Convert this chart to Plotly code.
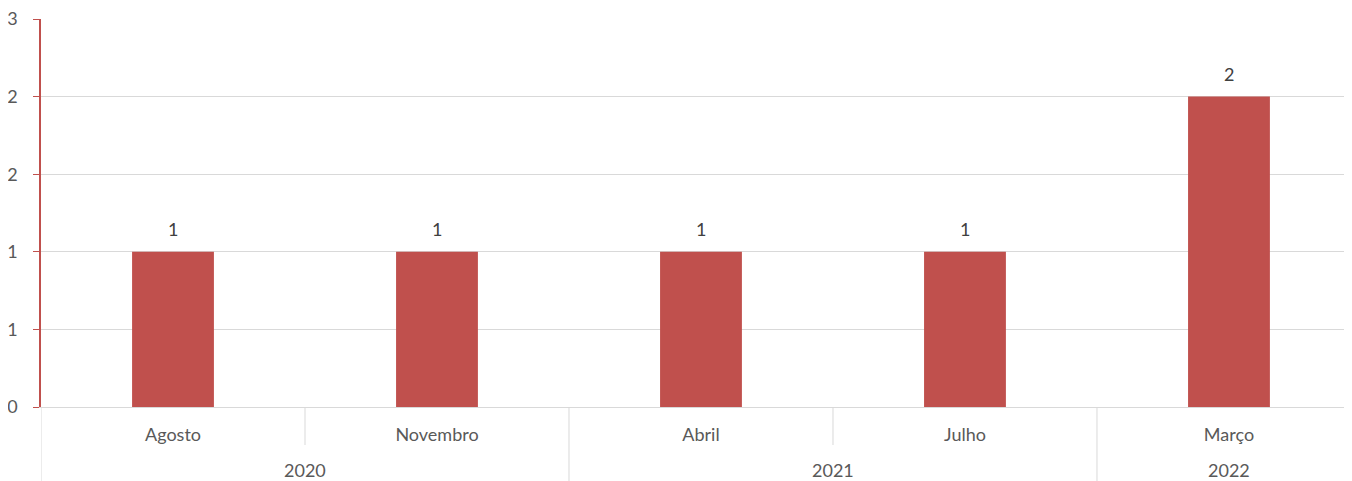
import plotly.graph_objects as go

months = ["Agosto", "Novembro", "Abril", "Julho", "Março"]
values = [1, 1, 1, 1, 2]
years = ["2020", "2021", "2022"]
year_pos = [0.5, 2.5, 4]
ytick_vals = [0, 0.5, 1, 1.5, 2, 2.5]
ytick_text = ["0", "1", "1", "2", "2", "3"]

BAR = "#C0504D"
GRID = "#D9D9D9"
TXT = "#595959"
FONT = "Lato"
FS = 18

# page body has an 8px default margin; compensate
OFF = 8
W, H = 1352 - OFF, 481 - OFF
t, b, l = 19 - OFF, 74, 41 - OFF
plot_h = H - t - b  # 388

fig = go.Figure()
fig.add_trace(go.Bar(
    x=months, y=values, width=0.31,
    marker=dict(color=BAR, line=dict(width=0)),
    hoverinfo="x+y",
))

def py(pix):
    return -(pix - 407) / plot_h

shapes = []
for i, xv in enumerate([-0.5, 0.5, 1.5, 2.5, 3.5]):
    long = i % 2 == 0
    shapes.append(dict(type="line", xref="x", yref="paper",
                       x0=xv, x1=xv, y0=0, y1=py(481 if long else 445),
                       line=dict(color=GRID, width=1)))

annotations = [dict(x=xp, y=py(470), xref="x", yref="paper", text=yr,
                    showarrow=False, yanchor="middle",
                    font=dict(family=FONT, size=FS, color=TXT))
               for xp, yr in zip(year_pos, years)]
annotations += [dict(x=m, y=v, xref="x", yref="y", text=str(v),
                     showarrow=False, yanchor="middle", yshift=23,
                     font=dict(family=FONT, size=FS, color="#404040"))
                for m, v in zip(months, values)]

fig.update_layout(
    width=W, height=H,
    margin=dict(l=l, r=0, t=t, b=b),
    paper_bgcolor="white", plot_bgcolor="white",
    showlegend=False,
    font=dict(family=FONT, size=FS, color=TXT),
    shapes=shapes, annotations=annotations,
    xaxis=dict(range=[-0.5, 4.466], showgrid=False, zeroline=False,
               automargin=False,
               showline=True, linecolor=GRID, linewidth=1,
               ticks="outside", ticklen=11, tickcolor="rgba(0,0,0,0)",
               tickfont=dict(family=FONT, size=FS, color=TXT)),
    yaxis=dict(range=[0, 2.5], tickvals=ytick_vals, ticktext=ytick_text,
               automargin=False, ticklabeloverflow="allow",
               ticklabelstandoff=12,
               showgrid=True, gridcolor=GRID, gridwidth=1, zeroline=False,
               showline=True, linecolor=BAR, linewidth=1.5,
               ticks="outside", ticklen=6, tickcolor=BAR,
               tickfont=dict(family=FONT, size=FS, color=TXT)),
)

fig.write_html("out.html")
